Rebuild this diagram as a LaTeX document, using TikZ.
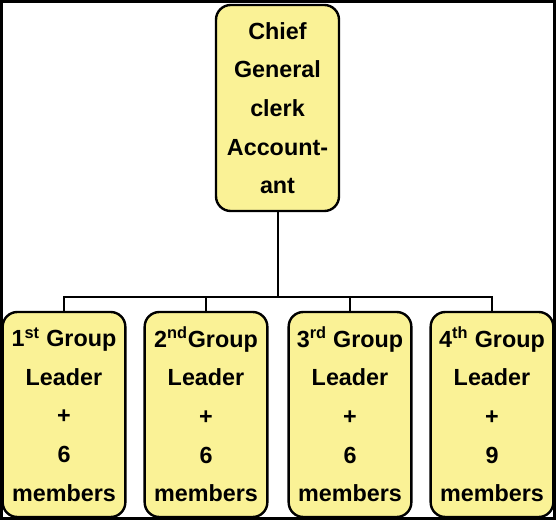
\documentclass[tikz,border=0pt]{standalone}
\usepackage{fontspec}
\setmainfont{Liberation Sans}
\usepackage{tikz}
\usetikzlibrary{positioning}
\usetikzlibrary{calc}
\definecolor{boxfill}{RGB}{250,242,150}

\begin{document}
\begin{tikzpicture}[x=0.75pt,y=0.75pt,yscale=-1,xscale=1,
  rolebox/.style={draw,line width=1.8pt,rounded corners=11pt,fill=boxfill,
    align=center,inner sep=0pt,font=\fontsize{17.5}{29}\selectfont\bfseries},
  chiefbox/.style={rolebox,minimum width=92.25pt,minimum height=154.5pt},
  groupbox/.style={rolebox,minimum width=92pt,minimum height=153.75pt},
  link/.style={line width=1.5pt}]
\useasboundingbox (0,0) rectangle (556,520);

%Shape: Rectangle [id:frame]
\draw [line width=1.8pt] (1.5,1.5) rectangle (554.5,518.5);

% Text Node
\node [chiefbox] (chief) at (277.5,108) {Chief\\General\\clerk\\Account-\\ant};
% Text Node
\node [groupbox] (g1) at (64,414.5) {1\textsuperscript{st} Group\\Leader\\+\\6\\members};
% Text Node
\node [groupbox] (g2) at (206,414.5) {2\textsuperscript{nd}Group\\Leader\\+\\6\\members};
% Text Node
\node [groupbox] (g3) at (350,414.5) {3\textsuperscript{rd} Group\\Leader\\+\\6\\members};
% Text Node
\node [groupbox] (g4) at (492,414.5) {4\textsuperscript{th} Group\\Leader\\+\\9\\members};

%Straight Lines
\coordinate (bus) at (277.5,297);
\draw [link] (chief.south) -- (bus);
\foreach \g in {g1,g2,g3,g4}
  \draw [link] (\g.north) |- (bus);

\end{tikzpicture}
\end{document}
